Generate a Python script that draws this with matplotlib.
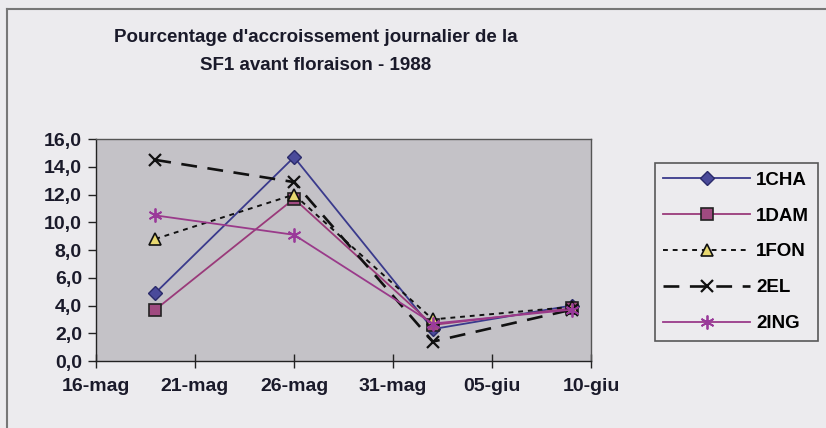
import matplotlib
matplotlib.use('Agg')
import matplotlib.pyplot as plt
from matplotlib.ticker import FuncFormatter
import numpy as np
import datetime as dt

plt.rcParams['font.family'] = ['Liberation Sans', 'DejaVu Sans']
plt.rcParams['font.weight'] = 'bold'

dates = [dt.date(1988, 5, 19), dt.date(1988, 5, 26), dt.date(1988, 6, 2), dt.date(1988, 6, 9)]
cha = [4.9, 14.7, 2.3, 4.0]
dam = [3.7, 11.7, 2.6, 3.8]
fon = [8.8, 12.0, 3.0, 3.9]
el = [14.5, 12.9, 1.4, 3.7]
ing = [10.5, 9.1, 2.7, 3.7]
x_ticks = [dt.date(1988, 5, 16), dt.date(1988, 5, 21), dt.date(1988, 5, 26),
           dt.date(1988, 5, 31), dt.date(1988, 6, 5), dt.date(1988, 6, 10)]
x_labels = ['16-mag', '21-mag', '26-mag', '31-mag', '05-giu', '10-giu']

fig = plt.figure(figsize=(8.26, 4.28), dpi=100, facecolor='#ecebee')
ax = fig.add_axes([0.116, 0.1565, 0.6, 0.5185], facecolor='#c4c2c7')

ax.plot(dates, cha, color='#3a3a8c', lw=1.3, marker='D', ms=7,
        mfc='#4a4a9a', mec='#2a2a6a', label='1CHA')
ax.plot(dates, dam, color='#9a3a7a', lw=1.3, marker='s', ms=8,
        mfc='#a04a80', mec='#222222', mew=1.2, label='1DAM')
ax.plot(dates, fon, color='#111111', lw=1.4, ls=(0, (2.5, 2.5)), marker='^', ms=8,
        mfc='#e8d870', mec='#111111', mew=1.2, label='1FON')
ax.plot(dates, el, color='#111111', lw=1.9, ls=(0, (6, 4)), marker='x', ms=9,
        mew=1.6, mec='#111111', label='2EL')
ax.plot(dates, ing, color='#9a3a8a', lw=1.3, marker=(6, 2, 0), ms=10,
        mew=1.3, mec='#9a3a9a', label='2ING')

ax.set_xlim(x_ticks[0], x_ticks[-1])
ax.set_ylim(0, 16)
ax.set_yticks(np.arange(0, 17, 2))
ax.yaxis.set_major_formatter(FuncFormatter(lambda v, p: f'{v:.1f}'.replace('.', ',')))
ax.set_xticks(x_ticks)
ax.set_xticklabels(x_labels)
ax.tick_params(axis='y', direction='out', length=6, width=1, colors='#222222',
               labelsize=14, pad=4)
ax.tick_params(axis='x', direction='inout', length=10, width=1, colors='#222222',
               labelsize=14, pad=7)
for lbl in ax.get_xticklabels() + ax.get_yticklabels():
    lbl.set_fontweight('bold')
    lbl.set_color('#1a1a2a')
for s in ax.spines.values():
    s.set_color('#555555')
    s.set_linewidth(1.0)
ax.spines['bottom'].set_color('#222222')
ax.spines['left'].set_color('#222222')

leg = fig.legend(loc='upper left', bbox_to_anchor=(0.793, 0.619), frameon=True,
                 fancybox=False, facecolor='#ecebee', edgecolor='#333333',
                 prop={'weight': 'bold', 'size': 13.5}, handlelength=4.6,
                 labelspacing=1.0, borderpad=0.45, handletextpad=0.35,
                 borderaxespad=0)
leg.get_frame().set_linewidth(1.2)

fig.text(0.382, 0.913, "Pourcentage d'accroissement journalier de la",
         ha='center', va='center', fontsize=13.5, fontweight='bold', color='#1a1a2a')
fig.text(0.382, 0.848, "SF1 avant floraison - 1988",
         ha='center', va='center', fontsize=13.5, fontweight='bold', color='#1a1a2a')

# outer chart frame (left and top edges visible)
fig.add_artist(plt.Line2D([0.0085, 0.0085], [0, 0.978], color='#777777', lw=1.5))
fig.add_artist(plt.Line2D([0.0085, 1.0], [0.978, 0.978], color='#777777', lw=1.5))

fig.savefig('out.png', dpi=100, facecolor=fig.get_facecolor())
